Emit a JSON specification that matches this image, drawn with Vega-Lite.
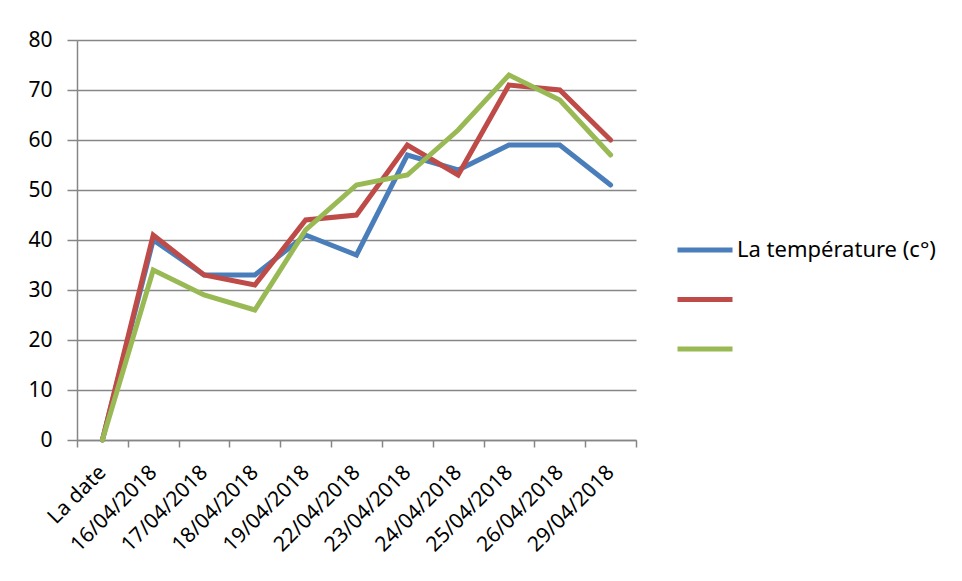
{
  "$schema": "https://vega.github.io/schema/vega-lite/v6.json",
  "autosize": "none",
  "width": 559,
  "height": 400,
  "padding": {"left": 77, "top": 40, "right": 326, "bottom": 141},
  "background": "white",
  "data": {
    "values": [
      {"date": "La date", "serie": "La température (c°)", "valeur": 0},
      {"date": "16/04/2018", "serie": "La température (c°)", "valeur": 40},
      {"date": "17/04/2018", "serie": "La température (c°)", "valeur": 33},
      {"date": "18/04/2018", "serie": "La température (c°)", "valeur": 33},
      {"date": "19/04/2018", "serie": "La température (c°)", "valeur": 41},
      {"date": "22/04/2018", "serie": "La température (c°)", "valeur": 37},
      {"date": "23/04/2018", "serie": "La température (c°)", "valeur": 57},
      {"date": "24/04/2018", "serie": "La température (c°)", "valeur": 54},
      {"date": "25/04/2018", "serie": "La température (c°)", "valeur": 59},
      {"date": "26/04/2018", "serie": "La température (c°)", "valeur": 59},
      {"date": "29/04/2018", "serie": "La température (c°)", "valeur": 51},
      {"date": "La date", "serie": "S2", "valeur": 0},
      {"date": "16/04/2018", "serie": "S2", "valeur": 41},
      {"date": "17/04/2018", "serie": "S2", "valeur": 33},
      {"date": "18/04/2018", "serie": "S2", "valeur": 31},
      {"date": "19/04/2018", "serie": "S2", "valeur": 44},
      {"date": "22/04/2018", "serie": "S2", "valeur": 45},
      {"date": "23/04/2018", "serie": "S2", "valeur": 59},
      {"date": "24/04/2018", "serie": "S2", "valeur": 53},
      {"date": "25/04/2018", "serie": "S2", "valeur": 71},
      {"date": "26/04/2018", "serie": "S2", "valeur": 70},
      {"date": "29/04/2018", "serie": "S2", "valeur": 60},
      {"date": "La date", "serie": "S3", "valeur": 0},
      {"date": "16/04/2018", "serie": "S3", "valeur": 34},
      {"date": "17/04/2018", "serie": "S3", "valeur": 29},
      {"date": "18/04/2018", "serie": "S3", "valeur": 26},
      {"date": "19/04/2018", "serie": "S3", "valeur": 42},
      {"date": "22/04/2018", "serie": "S3", "valeur": 51},
      {"date": "23/04/2018", "serie": "S3", "valeur": 53},
      {"date": "24/04/2018", "serie": "S3", "valeur": 62},
      {"date": "25/04/2018", "serie": "S3", "valeur": 73},
      {"date": "26/04/2018", "serie": "S3", "valeur": 68},
      {"date": "29/04/2018", "serie": "S3", "valeur": 57}
    ]
  },
  "mark": {"type": "line", "strokeWidth": 5, "strokeCap": "round", "strokeJoin": "miter"},
  "encoding": {
    "x": {
      "field": "date",
      "type": "ordinal",
      "sort": ["La date", "16/04/2018", "17/04/2018", "18/04/2018", "19/04/2018", "22/04/2018", "23/04/2018", "24/04/2018", "25/04/2018", "26/04/2018", "29/04/2018"],
      "scale": {"type": "band", "paddingInner": 0, "paddingOuter": 0},
      "axis": {
        "title": null,
        "labelAngle": -45,
        "labelAlign": "right",
        "labelBaseline": "middle",
        "labelFontSize": 21,
        "labelFont": "Noto Sans",
        "labelColor": "#000000",
        "labelPadding": 22,
        "tickBand": "extent",
        "tickSize": 7,
        "tickColor": "#868686",
        "tickWidth": 1.5,
        "domainColor": "#868686",
        "domainWidth": 1.5,
        "grid": false
      }
    },
    "y": {
      "field": "valeur",
      "type": "quantitative",
      "scale": {"domain": [0, 80], "nice": false},
      "axis": {
        "title": null,
        "values": [0, 10, 20, 30, 40, 50, 60, 70, 80],
        "labelFontSize": 21,
        "labelFont": "Noto Sans",
        "labelColor": "#000000",
        "labelPadding": 15,
        "tickSize": 10,
        "tickColor": "#868686",
        "tickWidth": 1.5,
        "domainColor": "#868686",
        "domainWidth": 1.5,
        "grid": true,
        "gridColor": "#868686",
        "gridWidth": 1.5
      }
    },
    "color": {
      "field": "serie",
      "type": "nominal",
      "scale": {"domain": ["La température (c°)", "S2", "S3"], "range": ["#4A7EBB", "#BE4B48", "#98B954"]},
      "legend": {
        "title": null,
        "orient": "none",
        "legendX": 598,
        "legendY": 180,
        "symbolType": "stroke",
        "symbolSize": 3025,
        "symbolStrokeWidth": 5,
        "labelFontSize": 22,
        "labelFont": "Noto Sans",
        "labelColor": "#000000",
        "labelOffset": 2,
        "labelLimit": 400,
        "rowPadding": 8.5,
        "labelExpr": "datum.value == 'La température (c°)' ? datum.value : ''"
      }
    }
  },
  "config": {"view": {"stroke": null}}
}
